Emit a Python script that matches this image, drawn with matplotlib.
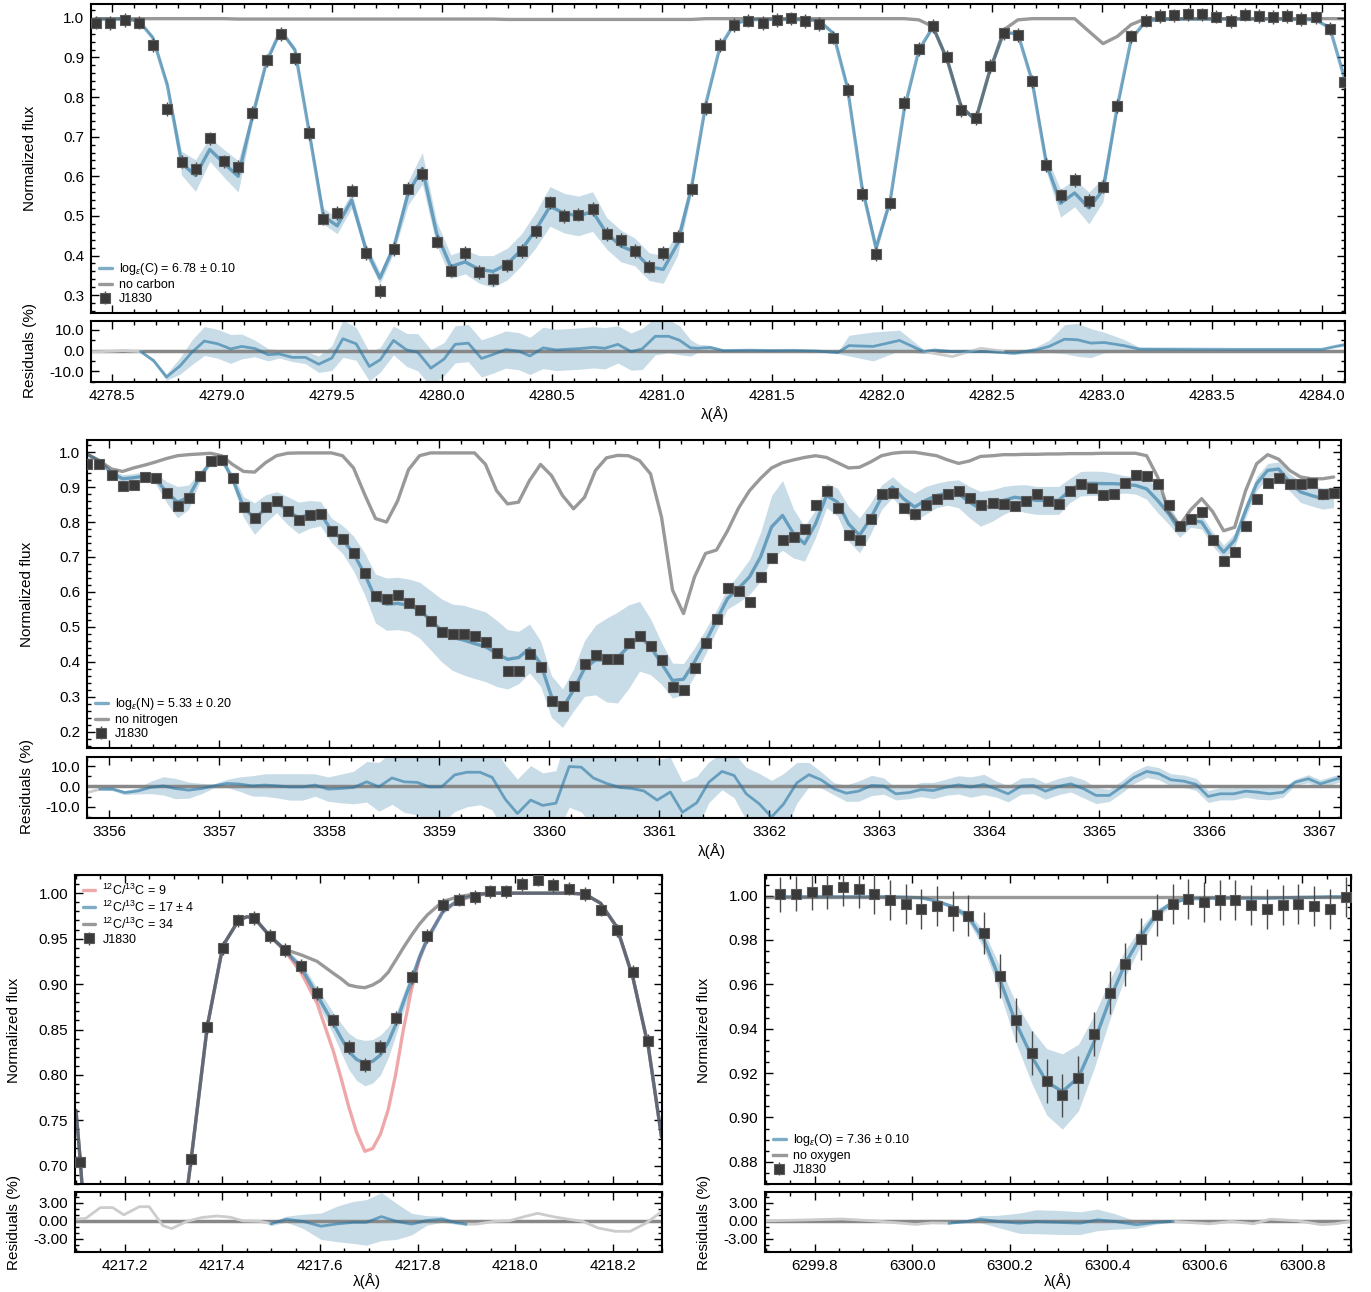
import numpy as np
import matplotlib
matplotlib.use("Agg")
import matplotlib.pyplot as plt
from matplotlib.ticker import MultipleLocator, FormatStrFormatter

plt.rcParams['font.family'] = ['Liberation Sans', 'DejaVu Sans']
plt.rcParams['mathtext.fontset'] = 'custom'
plt.rcParams['mathtext.rm'] = 'Liberation Sans'
plt.rcParams['mathtext.it'] = 'Liberation Sans:italic'
plt.rcParams['axes.unicode_minus'] = False

# ---------------- carbon (CH) region ----------------
c_lam = [4278.427, 4278.492, 4278.558, 4278.623, 4278.686, 4278.752, 4278.817, 4278.880, 4278.945, 4279.009,
         4279.074, 4279.138, 4279.203, 4279.267, 4279.332, 4279.395, 4279.461, 4279.524, 4279.590, 4279.653,
         4279.718, 4279.782, 4279.847, 4279.911, 4279.976, 4280.040, 4280.105, 4280.170, 4280.233, 4280.298,
         4280.362, 4280.427, 4280.491, 4280.556, 4280.620, 4280.685, 4280.749, 4280.814, 4280.877, 4280.942,
         4281.006, 4281.071, 4281.135, 4281.200, 4281.264, 4281.329, 4281.392, 4281.458, 4281.521, 4281.586,
         4281.650, 4281.715, 4281.779, 4281.844, 4281.909, 4281.973, 4282.038, 4282.101, 4282.168, 4282.232,
         4282.297, 4282.360, 4282.426, 4282.490, 4282.555, 4282.618, 4282.683, 4282.747, 4282.812, 4282.876,
         4282.941, 4283.005, 4283.070, 4283.133, 4283.199, 4283.262, 4283.327, 4283.391, 4283.456, 4283.520,
         4283.585, 4283.649, 4283.714, 4283.777, 4283.842, 4283.906, 4283.971, 4284.036, 4284.101]
c_flux = [0.988, 0.987, 0.995, 0.988, 0.932, 0.770, 0.637, 0.618, 0.696, 0.638,
          0.624, 0.760, 0.893, 0.959, 0.898, 0.709, 0.493, 0.507, 0.564, 0.407,
          0.311, 0.417, 0.569, 0.606, 0.435, 0.362, 0.407, 0.359, 0.340, 0.375,
          0.411, 0.461, 0.534, 0.500, 0.503, 0.517, 0.454, 0.439, 0.412, 0.372,
          0.406, 0.448, 0.567, 0.772, 0.932, 0.982, 0.993, 0.987, 0.995, 0.999,
          0.992, 0.984, 0.950, 0.818, 0.555, 0.404, 0.532, 0.785, 0.922, 0.980,
          0.902, 0.767, 0.747, 0.878, 0.961, 0.957, 0.840, 0.629, 0.552, 0.591,
          0.538, 0.574, 0.778, 0.953, 0.993, 1.005, 1.006, 1.009, 1.009, 1.003,
          0.992, 1.008, 1.005, 1.002, 1.005, 0.997, 1.001, 0.973, 0.837]
c_err = 0.017
c_model = [0.997, 0.997, 0.997, 0.992, 0.950, 0.830, 0.633, 0.602, 0.668, 0.633,
           0.600, 0.750, 0.890, 0.968, 0.919, 0.717, 0.500, 0.475, 0.540, 0.418,
           0.343, 0.423, 0.558, 0.620, 0.456, 0.372, 0.384, 0.365, 0.360, 0.379,
           0.415, 0.465, 0.524, 0.507, 0.500, 0.511, 0.456, 0.424, 0.409, 0.372,
           0.365, 0.430, 0.574, 0.784, 0.927, 0.985, 0.995, 0.996, 0.996, 0.996,
           0.995, 0.993, 0.961, 0.822, 0.574, 0.419, 0.540, 0.768, 0.919, 0.977,
           0.894, 0.776, 0.742, 0.866, 0.963, 0.960, 0.840, 0.633, 0.532, 0.558,
           0.520, 0.566, 0.776, 0.946, 0.992, 0.996, 0.997, 0.997, 0.997, 0.997,
           0.997, 0.997, 0.997, 0.997, 0.997, 0.996, 0.995, 0.975, 0.851]
c_sig = [0.002, 0.002, 0.002, 0.002, 0.004, 0.008, 0.030, 0.040, 0.030, 0.035,
         0.040, 0.015, 0.008, 0.006, 0.006, 0.010, 0.020, 0.020, 0.020, 0.015,
         0.015, 0.015, 0.030, 0.040, 0.030, 0.030, 0.030, 0.035, 0.040, 0.040,
         0.040, 0.045, 0.050, 0.050, 0.050, 0.050, 0.040, 0.040, 0.035, 0.035,
         0.035, 0.030, 0.015, 0.006, 0.004, 0.002, 0.002, 0.002, 0.002, 0.002,
         0.002, 0.002, 0.004, 0.008, 0.012, 0.015, 0.010, 0.006, 0.003, 0.004,
         0.006, 0.006, 0.004, 0.003, 0.003, 0.003, 0.008, 0.020, 0.035, 0.035,
         0.040, 0.030, 0.010, 0.004, 0.002, 0.002, 0.002, 0.002, 0.002, 0.002,
         0.002, 0.002, 0.002, 0.002, 0.002, 0.002, 0.002, 0.002, 0.002]
c_nocarbon = [0.998, 0.998, 0.998, 0.998, 0.998, 0.998, 0.998, 0.998, 0.998, 0.998,
              0.997, 0.997, 0.997, 0.997, 0.997, 0.997, 0.997, 0.997, 0.997, 0.997,
              0.997, 0.997, 0.997, 0.997, 0.997, 0.997, 0.997, 0.997, 0.997, 0.996,
              0.996, 0.996, 0.996, 0.996, 0.996, 0.996, 0.996, 0.996, 0.996, 0.996,
              0.996, 0.996, 0.996, 0.998, 0.998, 0.998, 0.998, 0.998, 0.998, 0.998,
              0.998, 0.998, 0.998, 0.998, 0.998, 0.998, 0.998, 0.998, 0.995, 0.978,
              0.894, 0.776, 0.742, 0.866, 0.970, 0.995, 0.998, 0.998, 0.998, 0.998,
              0.966, 0.935, 0.953, 0.983, 0.998, 0.998, 0.998, 0.998, 0.998, 0.998,
              0.998, 0.998, 0.998, 0.998, 0.998, 0.998, 0.998, 0.998, 0.998]

r1_lam = [4278.631, 4278.690, 4278.748, 4278.810, 4278.864, 4278.920, 4278.980, 4279.040, 4279.090, 4279.150,
          4279.210, 4279.260, 4279.320, 4279.380, 4279.440, 4279.500, 4279.550, 4279.610, 4279.670, 4279.720,
          4279.780, 4279.840, 4279.890, 4279.950, 4280.010, 4280.060, 4280.120, 4280.180, 4280.230, 4280.290,
          4280.350, 4280.400, 4280.460, 4280.520, 4280.580, 4280.630, 4280.690, 4280.740, 4280.800, 4280.860,
          4280.910, 4280.970, 4281.030, 4281.080, 4281.130, 4281.164, 4281.220, 4281.280, 4281.400, 4281.500,
          4281.600, 4281.700, 4281.800, 4281.850, 4281.960, 4282.080, 4282.190, 4282.240, 4282.320, 4282.480,
          4282.600, 4282.700, 4282.760, 4282.830, 4282.890, 4282.950, 4283.010, 4283.100, 4283.170, 4283.400,
          4283.600, 4283.800, 4284.000, 4284.060, 4284.100]
r1_val = [-0.5, -4.9, -12.8, -7.4, -0.8, 4.6, 3.3, 0.8, 2.0, 1.0,
          -2.0, -1.6, -3.3, -3.3, -6.6, -3.6, 5.7, 3.3, -7.7, -4.4,
          4.9, 0.3, -0.8, -8.5, -4.1, 3.0, 3.6, -3.8, -2.0, 0.5,
          -0.3, -2.6, 1.3, 0.3, 0.7, 1.0, 1.6, 1.1, 3.0, -0.5,
          0.8, 6.9, 6.9, 5.0, 1.3, 1.1, 1.5, 0.0, 0.2, 0.0,
          0.1, -0.2, -1.0, 2.4, 2.0, 4.9, -0.5, 0.3, -0.5, -0.5,
          -1.3, 0.3, 2.0, 5.5, 5.2, 3.6, 3.9, 2.4, 0.7, 0.7,
          0.6, 0.6, 0.6, 2.0, 2.8]
r1_half = [0.5, 1.0, 1.5, 4, 6, 7, 7, 7, 6, 4,
           3, 2, 2, 3, 4, 6, 9, 8, 7, 6,
           7, 8, 9, 9, 8, 9, 9, 9, 9, 9,
           9, 9, 10, 10, 10, 10, 10, 10, 9, 9,
           10, 9, 8, 7, 4, 2, 1, 0.5, 0.3, 0.3,
           0.3, 0.3, 0.5, 5, 7, 5, 1, 0.5, 0.3, 0.3,
           0.5, 1.5, 3, 7, 8, 7, 5, 3, 1, 0.3,
           0.3, 0.3, 0.3, 0.5, 0.8]
r1_grey_lam_a = [4278.405, 4278.45, 4278.50, 4278.55, 4278.60, 4278.631]
r1_grey_val_a = [-0.6, -0.5, -0.3, 0.0, -0.3, -0.5]
r1_grey_lam_b = [4282.19, 4282.32, 4282.45, 4282.55]
r1_grey_val_b = [-0.5, -2.9, 1.1, -0.3]

# ---------------- nitrogen (NH) region ----------------
n_lam = [3355.80, 3355.91, 3356.02, 3356.12, 3356.22, 3356.32, 3356.42, 3356.52, 3356.62, 3356.72,
         3356.82, 3356.92, 3357.02, 3357.12, 3357.22, 3357.32, 3357.42, 3357.52, 3357.62, 3357.72,
         3357.82, 3357.92, 3358.02, 3358.12, 3358.22, 3358.32, 3358.42, 3358.52, 3358.62, 3358.72,
         3358.82, 3358.92, 3359.02, 3359.12, 3359.22, 3359.32, 3359.42, 3359.52, 3359.62, 3359.72,
         3359.82, 3359.92, 3360.02, 3360.12, 3360.22, 3360.32, 3360.42, 3360.52, 3360.62, 3360.72,
         3360.82, 3360.92, 3361.02, 3361.12, 3361.22, 3361.32, 3361.42, 3361.52, 3361.62, 3361.72,
         3361.82, 3361.92, 3362.02, 3362.12, 3362.22, 3362.32, 3362.42, 3362.52, 3362.62, 3362.72,
         3362.82, 3362.92, 3363.02, 3363.12, 3363.22, 3363.32, 3363.42, 3363.52, 3363.62, 3363.72,
         3363.82, 3363.92, 3364.03, 3364.13, 3364.23, 3364.33, 3364.43, 3364.53, 3364.63, 3364.73,
         3364.83, 3364.93, 3365.03, 3365.13, 3365.23, 3365.33, 3365.43, 3365.53, 3365.63, 3365.73,
         3365.83, 3365.93, 3366.03, 3366.13, 3366.23, 3366.33, 3366.43, 3366.53, 3366.63, 3366.73,
         3366.83, 3366.93, 3367.03, 3367.13]
n_flux = [0.967, 0.967, 0.936, 0.903, 0.907, 0.929, 0.926, 0.884, 0.846, 0.869,
          0.931, 0.976, 0.978, 0.926, 0.843, 0.811, 0.843, 0.859, 0.831, 0.805,
          0.821, 0.824, 0.774, 0.751, 0.711, 0.655, 0.589, 0.580, 0.590, 0.568,
          0.548, 0.516, 0.484, 0.480, 0.480, 0.474, 0.457, 0.424, 0.374, 0.374,
          0.421, 0.386, 0.289, 0.273, 0.331, 0.393, 0.419, 0.407, 0.409, 0.454,
          0.475, 0.446, 0.405, 0.327, 0.319, 0.383, 0.454, 0.523, 0.610, 0.603,
          0.571, 0.643, 0.697, 0.750, 0.756, 0.781, 0.850, 0.888, 0.839, 0.764,
          0.748, 0.810, 0.879, 0.884, 0.840, 0.824, 0.850, 0.866, 0.879, 0.890,
          0.869, 0.849, 0.856, 0.852, 0.845, 0.860, 0.879, 0.860, 0.852, 0.888,
          0.908, 0.898, 0.878, 0.879, 0.912, 0.936, 0.933, 0.910, 0.848, 0.789,
          0.810, 0.830, 0.748, 0.688, 0.714, 0.790, 0.865, 0.912, 0.927, 0.910,
          0.910, 0.912, 0.879, 0.884]
n_err = 0.014
n_model = [0.993, 0.976, 0.940, 0.924, 0.927, 0.932, 0.924, 0.886, 0.857, 0.871,
           0.929, 0.971, 0.981, 0.924, 0.843, 0.810, 0.838, 0.857, 0.833, 0.812,
           0.822, 0.824, 0.776, 0.750, 0.710, 0.652, 0.581, 0.565, 0.567, 0.562,
           0.548, 0.519, 0.490, 0.470, 0.462, 0.452, 0.443, 0.424, 0.407, 0.412,
           0.438, 0.395, 0.300, 0.267, 0.319, 0.381, 0.405, 0.405, 0.412, 0.443,
           0.473, 0.443, 0.395, 0.346, 0.350, 0.400, 0.457, 0.519, 0.581, 0.610,
           0.643, 0.700, 0.786, 0.819, 0.767, 0.738, 0.795, 0.876, 0.857, 0.795,
           0.762, 0.810, 0.871, 0.900, 0.867, 0.843, 0.862, 0.876, 0.883, 0.881,
           0.857, 0.838, 0.848, 0.862, 0.871, 0.867, 0.862, 0.862, 0.862, 0.890,
           0.910, 0.911, 0.910, 0.910, 0.908, 0.905, 0.895, 0.862, 0.824, 0.776,
           0.805, 0.800, 0.752, 0.714, 0.748, 0.833, 0.910, 0.948, 0.952, 0.914,
           0.886, 0.876, 0.867, 0.871]
n_sig = [0.002, 0.003, 0.008, 0.012, 0.012, 0.012, 0.015, 0.030, 0.045, 0.035,
         0.015, 0.006, 0.005, 0.015, 0.030, 0.045, 0.040, 0.030, 0.040, 0.045,
         0.040, 0.035, 0.035, 0.040, 0.050, 0.060, 0.070, 0.075, 0.075, 0.075,
         0.080, 0.085, 0.090, 0.095, 0.100, 0.100, 0.100, 0.095, 0.085, 0.075,
         0.070, 0.065, 0.060, 0.055, 0.060, 0.080, 0.100, 0.120, 0.130, 0.120,
         0.100, 0.080, 0.060, 0.050, 0.045, 0.040, 0.035, 0.030, 0.030, 0.040,
         0.050, 0.070, 0.090, 0.100, 0.070, 0.050, 0.040, 0.035, 0.040, 0.050,
         0.050, 0.045, 0.035, 0.030, 0.035, 0.040, 0.040, 0.035, 0.035, 0.040,
         0.045, 0.050, 0.045, 0.040, 0.035, 0.040, 0.040, 0.040, 0.040, 0.035,
         0.035, 0.035, 0.035, 0.030, 0.025, 0.025, 0.030, 0.035, 0.030, 0.020,
         0.020, 0.020, 0.020, 0.020, 0.020, 0.020, 0.020, 0.020, 0.020, 0.025,
         0.030, 0.030, 0.030, 0.030]
n_nonitrogen = [0.995, 0.975, 0.952, 0.945, 0.955, 0.963, 0.972, 0.982, 0.990, 0.993,
                0.995, 0.997, 0.990, 0.965, 0.945, 0.943, 0.970, 0.990, 0.997, 0.998,
                0.998, 0.998, 0.998, 0.990, 0.955, 0.880, 0.810, 0.800, 0.860, 0.950,
                0.990, 0.998, 0.998, 0.998, 0.998, 0.998, 0.965, 0.890, 0.852, 0.857,
                0.919, 0.965, 0.933, 0.876, 0.838, 0.871, 0.948, 0.984, 0.991, 0.990,
                0.976, 0.938, 0.814, 0.605, 0.538, 0.643, 0.710, 0.720, 0.775, 0.840,
                0.890, 0.925, 0.955, 0.970, 0.978, 0.985, 0.990, 0.985, 0.970, 0.955,
                0.957, 0.972, 0.990, 0.997, 1.000, 1.000, 0.995, 0.990, 0.978, 0.968,
                0.975, 0.988, 0.990, 0.993, 0.993, 0.994, 0.994, 0.995, 0.995, 0.996,
                0.996, 0.996, 0.997, 0.997, 0.997, 0.997, 0.990, 0.929, 0.830, 0.790,
                0.835, 0.867, 0.830, 0.775, 0.785, 0.890, 0.967, 0.993, 0.980, 0.948,
                0.929, 0.924, 0.924, 0.929]

r2_lam = [3355.915, 3356.03, 3356.14, 3356.26, 3356.37, 3356.49, 3356.60, 3356.72, 3356.84, 3356.95,
          3357.07, 3357.18, 3357.30, 3357.41, 3357.53, 3357.64, 3357.76, 3357.87, 3357.99, 3358.10,
          3358.22, 3358.34, 3358.45, 3358.57, 3358.68, 3358.80, 3358.91, 3359.02, 3359.14, 3359.25,
          3359.37, 3359.48, 3359.60, 3359.71, 3359.83, 3359.94, 3360.06, 3360.18, 3360.29, 3360.40,
          3360.52, 3360.64, 3360.75, 3360.86, 3360.98, 3361.10, 3361.21,
          3361.34, 3361.45, 3361.57, 3361.68, 3361.79, 3361.91, 3362.02, 3362.13, 3362.25, 3362.36,
          3362.47, 3362.59, 3362.70, 3362.81, 3362.93, 3363.04, 3363.15, 3363.27, 3363.38, 3363.49,
          3363.61, 3363.72, 3363.83, 3363.95, 3364.06, 3364.17, 3364.29, 3364.40, 3364.51, 3364.63,
          3364.74, 3364.86, 3364.97, 3365.09, 3365.20, 3365.31, 3365.43, 3365.54, 3365.65, 3365.77,
          3365.88, 3365.99, 3366.10, 3366.22, 3366.33, 3366.44, 3366.55, 3366.67, 3366.78, 3366.90,
          3367.01, 3367.13, 3367.20]
r2_val = [-1.3, -1.3, -3.0, -2.2, -0.5, 0.3, -1.0, -1.8, -1.0, 0.3,
          1.5, 1.2, 0.3, 0.7, 0.3, -0.2, -0.2, 0.7, -1.3, -1.0,
          -0.5, 2.3, -0.2, 4.2, 2.3, 2.0, -0.2, -0.2, 5.7, 7.0,
          7.0, 4.5, -6.3, -13.3, -6.7, -9.3, -8.2, 9.8, 9.5, 4.2,
          1.5, -0.5, -1.0, -2.2, -6.7, -2.7, -12.7,
          -8.0, 2.1, 7.4, 5.4, -3.6, -8.6, -15.0, -8.6, 1.8, 5.8,
          3.3, -1.2, -3.3, -2.3, 0.5, 0.2, -3.6, -3.0, -1.5, -2.0,
          -0.3, 0.8, -0.3, 1.0, -1.2, -3.6, 0.2, 0.5, -2.3, 0.0,
          1.3, -1.2, -4.4, -4.4, -0.3, 4.3, 7.4, 6.3, 3.3, 2.6,
          1.0, -4.9, -3.6, -3.6, -2.3, -2.8, -3.6, -2.8, 2.1, 3.8,
          1.3, 3.3, 4.3]
r2_half = [0.5, 0.8, 1.0, 1.5, 3.0, 4.5, 5.0, 4.0, 2.5, 1.0,
           2.0, 3.5, 5.0, 5.5, 6.0, 6.5, 6.5, 5.5, 6.0, 7.0,
           8.0, 10, 12, 13, 15, 16, 17, 18, 18, 17,
           16, 16, 17, 17, 17, 16, 16, 20, 22, 24,
           25, 25, 24, 22, 20, 17, 15,
           13, 10, 9, 11, 13, 15, 18, 15, 10, 6,
           4, 3, 4, 5, 5, 4, 3, 3, 3.5, 4,
           4, 4.5, 5, 5, 4, 4, 4, 4, 4, 4,
           4, 4.5, 4, 3, 3, 3, 3, 3, 3, 3,
           3, 3, 3, 3, 3, 3.5, 3, 2.5, 1.5, 2,
           2, 2, 2]
r2_grey_lam = [3355.80, 3355.915]
r2_grey_val = [-3.0, -1.3]

# ---------------- 12C/13C region ----------------
i_lam = [4217.109, 4217.336, 4217.369, 4217.401, 4217.433, 4217.465, 4217.497, 4217.529, 4217.562, 4217.594,
         4217.627, 4217.659, 4217.692, 4217.724, 4217.755, 4217.788, 4217.820, 4217.852, 4217.884, 4217.917,
         4217.949, 4217.982, 4218.014, 4218.047, 4218.078, 4218.111, 4218.143, 4218.175, 4218.208, 4218.241,
         4218.273]
i_flux = [0.704, 0.707, 0.853, 0.940, 0.970, 0.973, 0.953, 0.9375, 0.920, 0.890,
          0.860, 0.831, 0.811, 0.831, 0.863, 0.908, 0.953, 0.987, 0.993, 0.996,
          1.002, 1.002, 1.010, 1.015, 1.009, 1.005, 0.999, 0.982, 0.959, 0.913,
          0.837]
i_err = 0.0075
im_lam = [4217.100, 4217.109, 4217.125, 4217.200, 4217.310, 4217.336, 4217.369, 4217.401, 4217.433, 4217.450,
          4217.465, 4217.497, 4217.529, 4217.562, 4217.594, 4217.627, 4217.643, 4217.659, 4217.675, 4217.692,
          4217.708, 4217.724, 4217.740, 4217.755, 4217.771, 4217.788, 4217.804, 4217.820, 4217.852, 4217.884,
          4217.917, 4217.949, 4217.982, 4218.014, 4218.047, 4218.078, 4218.111, 4218.143, 4218.175, 4218.208,
          4218.241, 4218.273, 4218.300]
im_17 = [0.761, 0.705, 0.580, 0.450, 0.600, 0.707, 0.853, 0.942, 0.970, 0.974,
         0.973, 0.953, 0.937, 0.918, 0.888, 0.857, 0.841, 0.826, 0.817, 0.813,
         0.815, 0.822, 0.836, 0.855, 0.880, 0.905, 0.930, 0.950, 0.980, 0.993,
         0.998, 1.000, 1.000, 1.000, 1.000, 1.000, 1.000, 0.999, 0.989, 0.963,
         0.908, 0.831, 0.732]
im_9 = [0.761, 0.705, 0.580, 0.450, 0.600, 0.707, 0.853, 0.942, 0.970, 0.974,
        0.973, 0.953, 0.936, 0.912, 0.879, 0.827, 0.797, 0.765, 0.737, 0.716,
        0.719, 0.735, 0.762, 0.800, 0.850, 0.895, 0.928, 0.950, 0.980, 0.992,
        0.997, 1.000, 1.000, 1.000, 1.000, 1.000, 1.000, 0.999, 0.989, 0.963,
        0.908, 0.831, 0.732]
im_34 = [0.761, 0.705, 0.580, 0.450, 0.600, 0.707, 0.853, 0.942, 0.970, 0.974,
         0.973, 0.953, 0.938, 0.932, 0.925, 0.912, 0.906, 0.899, 0.897, 0.896,
         0.899, 0.904, 0.913, 0.926, 0.940, 0.954, 0.966, 0.976, 0.991, 0.996,
         0.999, 1.000, 1.000, 1.000, 1.000, 1.000, 1.000, 0.999, 0.989, 0.963,
         0.908, 0.831, 0.732]
im_sig = [0, 0, 0, 0, 0, 0, 0, 0, 0, 0,
          0, 0.002, 0.003, 0.005, 0.008, 0.012, 0.016, 0.020, 0.023, 0.025,
          0.024, 0.022, 0.017, 0.012, 0.010, 0.008, 0.006, 0.005, 0.003, 0.002,
          0, 0, 0, 0, 0, 0, 0, 0, 0, 0,
          0, 0, 0]

r3_grey_lam = [4217.098, 4217.12, 4217.15, 4217.175, 4217.198, 4217.23, 4217.25, 4217.278, 4217.296, 4217.327,
               4217.358, 4217.389, 4217.416, 4217.442, 4217.478, 4217.50,
               4217.899, 4217.921, 4217.957, 4217.988, 4218.019, 4218.046, 4218.077, 4218.109, 4218.139, 4218.17,
               4218.205, 4218.236, 4218.268, 4218.30]
r3_grey_val = [0.27, 0.4, 2.2, 2.2, 1.0, 2.35, 2.35, -0.8, -1.3, -0.1,
               0.55, 0.8, 0.6, 0.0, -0.1, -0.5,
               -0.55, -0.55, -0.1, 0.0, 0.7, 1.25, 0.7, 0.27, -0.1, -1.2,
               -1.75, -1.75, -0.4, 1.5]
r3_lam = [4217.50, 4217.531, 4217.566, 4217.602, 4217.637, 4217.668, 4217.695, 4217.726, 4217.757, 4217.788,
          4217.819, 4217.85, 4217.877, 4217.899]
r3_val = [-0.5, 0.27, -0.1, -0.9, -0.5, -0.27, -0.27, 0.7, -0.1, -0.55, 0.05, 0.27, -0.27, -0.55]
r3_half = [0.3, 0.5, 1.2, 2.2, 3.0, 3.5, 3.8, 4.0, 3.0, 1.8, 0.8, 0.5, 0.3, 0.2]

# ---------------- oxygen region ----------------
o_lam = [6299.729, 6299.761, 6299.794, 6299.826, 6299.858, 6299.890, 6299.922, 6299.954, 6299.987, 6300.019,
         6300.051, 6300.083, 6300.115, 6300.147, 6300.180, 6300.212, 6300.245, 6300.276, 6300.308, 6300.341,
         6300.373, 6300.405, 6300.437, 6300.470, 6300.502, 6300.534, 6300.566, 6300.599, 6300.631, 6300.663,
         6300.695, 6300.727, 6300.760, 6300.792, 6300.824, 6300.857, 6300.889]
o_flux = [1.0006, 1.0009, 1.0015, 1.0026, 1.0038, 1.0032, 1.0006, 0.9980, 0.9961, 0.9940,
          0.9953, 0.9932, 0.9910, 0.9832, 0.9637, 0.9440, 0.9290, 0.9165, 0.9100, 0.9180,
          0.9377, 0.9563, 0.9690, 0.9806, 0.9913, 0.9964, 0.9983, 0.9970, 0.9979, 0.9982,
          0.9956, 0.9940, 0.9956, 0.9964, 0.9955, 0.9941, 0.9992]
o_err = [0.0080, 0.0080, 0.0082, 0.0085, 0.0085, 0.0088, 0.0090, 0.0090, 0.0090, 0.0090,
         0.0090, 0.0090, 0.0092, 0.0095, 0.0098, 0.0098, 0.0098, 0.0098, 0.0098, 0.0098,
         0.0098, 0.0098, 0.0098, 0.0095, 0.0095, 0.0090, 0.0090, 0.0090, 0.0090, 0.0090,
         0.0090, 0.0090, 0.0090, 0.0090, 0.0090, 0.0090, 0.0090]
o_model = [0.9995, 0.9995, 0.9995, 0.9995, 0.9995, 0.9995, 0.9995, 0.9995, 0.9993, 0.9990,
           0.9975, 0.9950, 0.9905, 0.9800, 0.9620, 0.9430, 0.9275, 0.9160, 0.9117, 0.9180,
           0.9340, 0.9530, 0.9695, 0.9820, 0.9920, 0.9970, 0.9985, 0.9988, 0.9988, 0.9988,
           0.9988, 0.9988, 0.9990, 0.9992, 0.9993, 0.9995, 0.9995]
o_sig = [0, 0, 0, 0, 0, 0, 0, 0, 0, 0,
         0.0005, 0.001, 0.002, 0.004, 0.006, 0.009, 0.012, 0.015, 0.017, 0.015,
         0.012, 0.009, 0.006, 0.004, 0.002, 0.001, 0, 0, 0, 0,
         0, 0, 0, 0, 0, 0, 0]
o_nooxygen = 0.9996

r4_grey_lam = [6299.698, 6299.76, 6299.856, 6299.92, 6300.007, 6300.04, 6300.076,
               6300.535, 6300.566, 6300.61, 6300.655, 6300.70, 6300.734, 6300.79, 6300.84, 6300.868, 6300.90]
r4_grey_val = [0.0, 0.1, 0.3, 0.0, -0.6, -0.35, -0.4,
               -0.1, -0.27, -0.5, -0.1, -0.5, 0.27, 0.0, -0.65, -0.5, -0.1]
r4_lam = [6300.076, 6300.113, 6300.14, 6300.175, 6300.22, 6300.255, 6300.30, 6300.344, 6300.38, 6300.415,
          6300.46, 6300.50, 6300.535]
r4_val = [-0.4, -0.1, 0.27, -0.1, -0.4, -0.16, -0.27, -0.4, 0.16, -0.1, -0.65, -0.27, -0.1]
r4_half = [0.1, 0.3, 0.6, 1.0, 1.7, 2.0, 2.0, 1.9, 1.8, 1.3, 0.6, 0.3, 0.1]

# ---------------- drawing ----------------
W, H = 1371, 1292
BLUE = '#2675a3'
DARK = '#555555'
RED = '#d62728'
LINE = dict(lw=2.4, solid_joinstyle='round', solid_capstyle='round')


def box(x0, y0, x1, y1):
    return [x0 / W, 1 - y1 / H, (x1 - x0) / W, (y1 - y0) / H]


def style(ax, xmaj, xmin, ymaj, ymin, xfmt, yfmt, xlim, ylim, xlabels=True):
    ax.set_xlim(*xlim)
    ax.set_ylim(*ylim)
    ax.xaxis.set_major_locator(MultipleLocator(xmaj))
    ax.xaxis.set_minor_locator(MultipleLocator(xmin))
    ax.yaxis.set_major_locator(MultipleLocator(ymaj))
    ax.yaxis.set_minor_locator(MultipleLocator(ymin))
    ax.xaxis.set_major_formatter(FormatStrFormatter(xfmt))
    ax.yaxis.set_major_formatter(FormatStrFormatter(yfmt))
    ax.tick_params(which='both', direction='in', top=True, right=True, width=1,
                   labelsize=11, labelbottom=xlabels, pad=5)
    ax.tick_params(which='major', length=6)
    ax.tick_params(which='minor', length=3)
    for s in ax.spines.values():
        s.set_linewidth(1.5)


def spectrum(ax, mlam, model, sig, label):
    model = np.array(model)
    sig = np.array(sig)
    ax.fill_between(mlam, model - sig, model + sig, color=BLUE, alpha=0.25, lw=0)
    ax.plot(mlam, model, color=BLUE, alpha=0.6, label=label, **LINE)


def points(ax, lam, flux, err):
    ax.errorbar(lam, flux, yerr=err, fmt='s', ms=6.5, color='#3a3a3a', mec='#5a5a5a', mew=0.8,
                ecolor='#4a4a4a', elinewidth=1, capsize=0, label='J1830', zorder=5)


def residuals(ax, glams, gvals, lam, val, half):
    val = np.array(val)
    half = np.array(half)
    ax.fill_between(lam, val - half, val + half, color=BLUE, alpha=0.25, lw=0)
    ax.axhline(0, color='#888888', lw=2.5)
    for gl, gv in zip(glams, gvals):
        ax.plot(gl, gv, color='#cccccc', lw=2, solid_joinstyle='round')
    ax.plot(lam, val, color=BLUE, alpha=0.6, lw=2, solid_joinstyle='round')


def legend(ax, loc, pad=0.25):
    ax.legend(loc=loc, frameon=False, fontsize=9, handlelength=1.0, handletextpad=0.6,
              labelspacing=0.15, borderaxespad=pad)


fig = plt.figure(figsize=(W / 100, H / 100), dpi=100)

# panel 1: carbon
ax1 = fig.add_axes(box(91, 4, 1345, 313))
spectrum(ax1, c_lam, c_model, c_sig, r'log$_\varepsilon$(C) = 6.78 ± 0.10')
ax1.plot(c_lam, c_nocarbon, color=DARK, alpha=0.6, label='no carbon', **LINE)
points(ax1, c_lam, c_flux, c_err)
style(ax1, 0.5, 0.1, 0.1, 0.02, '%.1f', '%.1f', (4278.405, 4284.105), (0.255, 1.035), xlabels=False)
legend(ax1, 'lower left')
ax1r = fig.add_axes(box(91, 321, 1345, 382))
residuals(ax1r, [r1_grey_lam_a, r1_grey_lam_b], [r1_grey_val_a, r1_grey_val_b], r1_lam, r1_val, r1_half)
style(ax1r, 0.5, 0.1, 10, 5, '%.1f', '%.1f', (4278.405, 4284.105), (-15.2, 14.3))

# panel 2: nitrogen
ax2 = fig.add_axes(box(87, 440, 1341, 748))
spectrum(ax2, n_lam, n_model, n_sig, r'log$_\varepsilon$(N) = 5.33 ± 0.20')
ax2.plot(n_lam, n_nonitrogen, color=DARK, alpha=0.6, label='no nitrogen', **LINE)
points(ax2, n_lam, n_flux, n_err)
style(ax2, 1, 0.2, 0.1, 0.02, '%d', '%.1f', (3355.797, 3367.197), (0.153, 1.035), xlabels=False)
legend(ax2, 'lower left')
ax2r = fig.add_axes(box(87, 757, 1341, 818))
residuals(ax2r, [r2_grey_lam], [r2_grey_val], r2_lam, r2_val, r2_half)
style(ax2r, 1, 0.2, 10, 5, '%d', '%.1f', (3355.797, 3367.197), (-15.5, 14.5))

# panel 3: isotope ratio
ax3 = fig.add_axes(box(75, 875, 662, 1184))
ax3.fill_between(im_lam, np.array(im_17) - np.array(im_sig), np.array(im_17) + np.array(im_sig),
                 color=BLUE, alpha=0.25, lw=0)
ax3.plot(im_lam, im_9, color=RED, alpha=0.4, label=r'$^{12}$C/$^{13}$C = 9', **LINE)
ax3.plot(im_lam, im_17, color=BLUE, alpha=0.6, label=r'$^{12}$C/$^{13}$C = 17 ± 4', **LINE)
ax3.plot(im_lam, im_34, color=DARK, alpha=0.6, label=r'$^{12}$C/$^{13}$C = 34', **LINE)
points(ax3, i_lam, i_flux, i_err)
style(ax3, 0.2, 0.05, 0.05, 0.01, '%.1f', '%.2f', (4217.098, 4218.301), (0.680, 1.020), xlabels=False)
legend(ax3, 'upper left', pad=0.2)
ax3r = fig.add_axes(box(75, 1192, 662, 1252))
residuals(ax3r, [r3_grey_lam[:16], r3_grey_lam[16:]], [r3_grey_val[:16], r3_grey_val[16:]],
          r3_lam, r3_val, r3_half)
style(ax3r, 0.2, 0.05, 3, 1, '%.1f', '%.2f', (4217.098, 4218.301), (-5.2, 4.8))

# panel 4: oxygen
ax4 = fig.add_axes(box(765, 875, 1351, 1184))
spectrum(ax4, o_lam, o_model, o_sig, r'log$_\varepsilon$(O) = 7.36 ± 0.10')
ax4.axhline(o_nooxygen, color=DARK, alpha=0.6, label='no oxygen', lw=2.4)
points(ax4, o_lam, o_flux, o_err)
style(ax4, 0.2, 0.05, 0.02, 0.005, '%.1f', '%.2f', (6299.698, 6300.90), (0.870, 1.0093), xlabels=False)
legend(ax4, 'lower left')
ax4r = fig.add_axes(box(765, 1192, 1351, 1252))
residuals(ax4r, [r4_grey_lam[:7], r4_grey_lam[7:]], [r4_grey_val[:7], r4_grey_val[7:]],
          r4_lam, r4_val, r4_half)
style(ax4r, 0.2, 0.05, 3, 1, '%.1f', '%.2f', (6299.698, 6300.90), (-5.2, 4.8))


# axis labels
def label(x, y, text, rot=0):
    fig.text(x / W, 1 - y / H, text, rotation=rot, ha='center', va='center', fontsize=11)


label(30, 158, 'Normalized flux', 90)
label(30, 351, 'Residuals (%)', 90)
label(715, 414, 'λ(Å)')
label(27, 594, 'Normalized flux', 90)
label(27, 787, 'Residuals (%)', 90)
label(712, 851, 'λ(Å)')
label(14, 1030, 'Normalized flux', 90)
label(14, 1222, 'Residuals (%)', 90)
label(367, 1281, 'λ(Å)')
label(704, 1030, 'Normalized flux', 90)
label(704, 1222, 'Residuals (%)', 90)
label(1058, 1281, 'λ(Å)')

fig.savefig('out.png', dpi=100)
